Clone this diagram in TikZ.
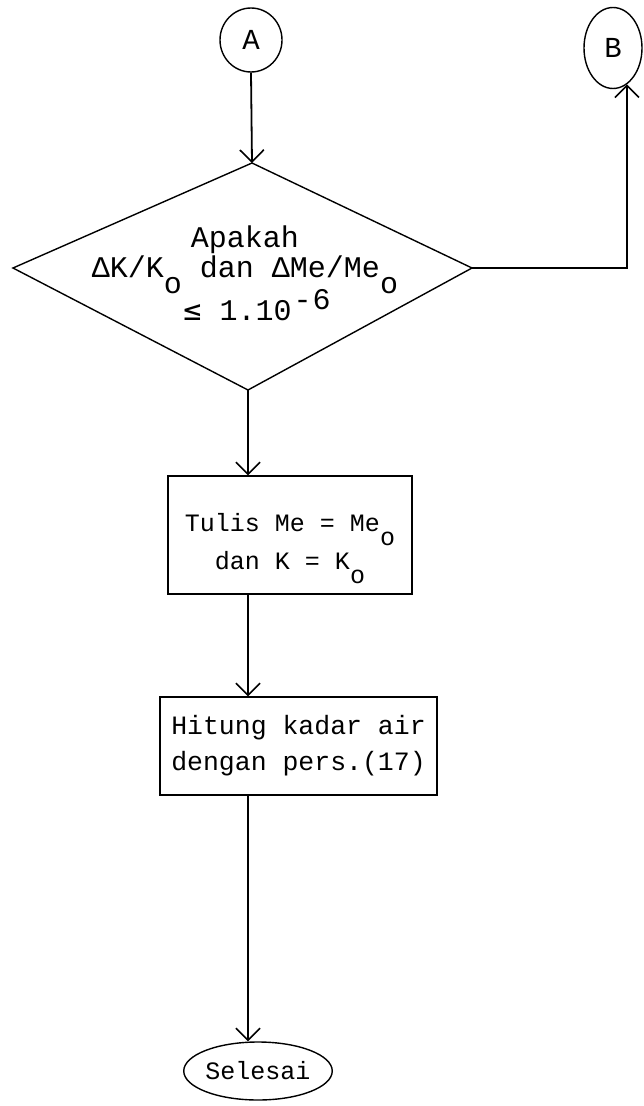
\documentclass[tikz,border=0pt]{standalone}
\usepackage{fontspec}
\setmonofont{Liberation Mono}
\newfontfamily\symfont{DejaVu Sans Mono}
\usetikzlibrary{arrows.meta,shapes.geometric}
\newcommand\subo{\smash{\raisebox{-0.55em}{o}}}
\newcommand\supx[1]{\smash{\raisebox{0.36em}{#1}}}
\begin{document}
\begin{tikzpicture}[x=1pt,y=-1pt,
  line width=1.4pt,
  conn/.style={line width=1.8pt,-{Straight Barb[length=12pt,width=24pt,line width=1.6pt]}},
  boxnode/.style={draw,rectangle,inner sep=0pt,font=\ttfamily\fontsize{25}{38}\selectfont,align=center},
  ovalnode/.style={draw,ellipse,inner sep=0pt,font=\ttfamily\fontsize{29}{30}\selectfont}]
\useasboundingbox (0,0) rectangle (643,1106);
\fill[white] (0,0) rectangle (643,1106);

\node[ovalnode,minimum width=62pt,minimum height=64pt] (A) at (251,40) {A};
\node[ovalnode,minimum width=58pt,minimum height=81pt] (B) at (613,48) {B};

\coordinate (Dt) at (252,163);
\coordinate (Dl) at (13,268);
\coordinate (Dr) at (472,268);
\coordinate (Db) at (248,390);
\draw (Dt) -- (Dr) -- (Db) -- (Dl) -- cycle;
\node[font=\ttfamily\fontsize{30}{30}\selectfont, align=center, inner sep=0pt] (D) at (245,273)
  {Apakah\\ΔK/K\subo{} dan ΔMe/Me\subo\\[13pt]\hspace*{24pt}{\symfont ≤} 1.10\supx{\kern2pt-\kern1pt6}};

\node[boxnode,minimum width=244pt,minimum height=118pt] (b1) at (290,535)
  {\rule{0pt}{31pt}Tulis Me = Me\subo\\dan K = K\subo};
\node[boxnode,font=\ttfamily\fontsize{26.5}{36}\selectfont,minimum width=277pt,minimum height=98pt] (b2) at (298.5,746)
  {Hitung kadar air\\dengan pers.(17)};
\node[ovalnode,font=\ttfamily\fontsize{25}{30}\selectfont,minimum width=137pt,minimum height=58pt] (E) at (258,1071) {Selesai};

\draw[conn] (A.south) -- (Dt);
\draw[conn] (Dr) -- (Dr -| B.291) -- (B.291);
\draw[conn] (Db) -- (Db |- b1.north);
\draw[conn] (b1.south -| Db) -- (b2.north -| Db);
\draw[conn] (b2.south -| Db) -- (E.north -| Db);
\end{tikzpicture}
\end{document}
